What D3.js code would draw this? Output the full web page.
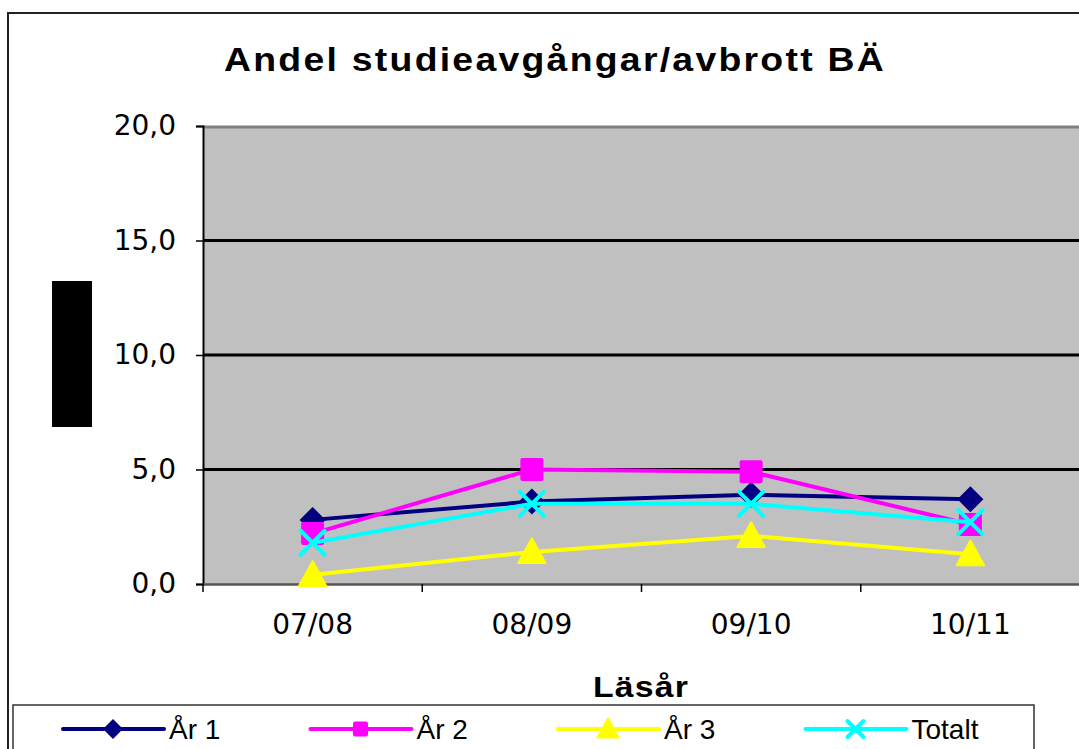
<!DOCTYPE html>
<html><head><meta charset="utf-8">
<script src="https://cdn.jsdelivr.net/npm/d3@7"></script>
<style>body{margin:0;background:#fff}svg{display:block}</style>
</head><body>
<script>
const categories = ["07/08", "08/09", "09/10", "10/11"];
const seriesNames = ["År 1", "År 2", "År 3", "Totalt"];
const ar1 = [2.8, 3.6, 3.9, 3.7];
const ar2 = [2.2, 5.0, 4.9, 2.6];
const ar3 = [0.4, 1.4, 2.1, 1.3];
const totalt = [1.8, 3.5, 3.5, 2.7];
const yTicks = [0, 5, 10, 15, 20];
const title = "Andel studieavgångar/avbrott BÄ";
const xTitle = "Läsår";

const colors = ["#000080", "#FF00FF", "#FFFF00", "#00FFFF"];
const shapes = ["diamond", "square", "triangle", "x"];
const seriesValues = [ar1, ar2, ar3, totalt];

(function () {
const W = 1079, H = 749;
const svg = d3.select("body").append("svg").attr("width", W).attr("height", H);

// outer frame
svg.append("rect").attr("x", 8).attr("y", 13).attr("width", 1100).attr("height", 800)
  .attr("fill", "#fff").attr("stroke", "#222").attr("stroke-width", 2);

const pL = 203, pR = 1080, pT = 126, pB = 584;
const x = d3.scaleBand().domain(categories).range([pL, pR]);
const y = d3.scaleLinear().domain([0, 20]).range([pB, pT]);
const cx = c => x(c) + x.bandwidth() / 2;

// plot area
svg.append("rect").attr("x", pL).attr("y", pT).attr("width", pR - pL).attr("height", pB - pT)
  .attr("fill", "#C0C0C0");
svg.append("line").attr("x1", pL).attr("x2", pR).attr("y1", pT + 1).attr("y2", pT + 1)
  .attr("stroke", "#808080").attr("stroke-width", 3);

// gridlines
svg.append("g").selectAll("line").data(yTicks.filter(t => t > 0 && t < 20)).join("line")
  .attr("x1", pL).attr("x2", pR).attr("y1", d => y(d)).attr("y2", d => y(d))
  .attr("stroke", "#000").attr("stroke-width", 3);

// y axis
const yAxis = d3.axisLeft(y).tickValues(yTicks).tickSize(7).tickPadding(20)
  .tickFormat(d => d3.format(".1f")(d).replace(".", ","));
const gy = svg.append("g").attr("transform", `translate(${pL},0)`).call(yAxis);
gy.select(".domain").attr("stroke", "#000").attr("stroke-width", 2);
gy.selectAll(".tick line").attr("stroke", "#000").attr("stroke-width", 1.5);
gy.selectAll("text").attr("font-family", "DejaVu Sans").attr("font-size", 28).attr("fill", "#000");

// x axis
const xAxis = d3.axisBottom(x).tickSize(0).tickPadding(30);
const gx = svg.append("g").attr("transform", `translate(0,${pB})`).call(xAxis);
gx.select(".domain").attr("stroke", "#555").attr("stroke-width", 2.5);
gx.selectAll("text").attr("font-family", "DejaVu Sans").attr("font-size", 28).attr("fill", "#000");
svg.append("g").selectAll("line").data(categories.concat(["end"])).join("line")
  .attr("x1", (d, i) => pL + i * x.step()).attr("x2", (d, i) => pL + i * x.step())
  .attr("y1", pB).attr("y2", pB + 8).attr("stroke", "#000").attr("stroke-width", 1.5);

// y label (rendered as a black block in the reference)
svg.append("rect").attr("x", 52).attr("y", 281).attr("width", 40).attr("height", 146).attr("fill", "#000");

// title
svg.append("text").attr("x", 224).attr("y", 71).attr("font-family", "Liberation Sans, Arial")
  .attr("font-weight", "bold").attr("font-size", 33).attr("letter-spacing", 2)
  .attr("textLength", 662).attr("lengthAdjust", "spacingAndGlyphs")
  .text(title);
svg.append("text").attr("x", 593).attr("y", 697).attr("font-family", "Liberation Sans, Arial")
  .attr("font-weight", "bold").attr("font-size", 29).attr("letter-spacing", 1)
  .attr("textLength", 96).attr("lengthAdjust", "spacingAndGlyphs")
  .text(xTitle);

function marker(g, shape, color, px, py, s) {
  if (shape === "diamond") {
    g.append("path").attr("d", `M${px},${py - s}L${px + s},${py}L${px},${py + s}L${px - s},${py}Z`).attr("fill", color);
  } else if (shape === "square") {
    g.append("rect").attr("x", px - s).attr("y", py - s).attr("width", 2 * s).attr("height", 2 * s)
      .attr("rx", 2).attr("fill", color);
  } else if (shape === "triangle") {
    g.append("path").attr("d", `M${px},${py - s * 1.05}L${px + s * 1.05},${py + s * 0.85}L${px - s * 1.05},${py + s * 0.85}Z`)
      .attr("fill", color).attr("stroke", color).attr("stroke-width", 2).attr("stroke-linejoin", "round");
  } else {
    g.append("path").attr("d", `M${px - s},${py - s}L${px + s},${py + s}M${px - s},${py + s}L${px + s},${py - s}`)
      .attr("stroke", color).attr("stroke-width", 4).attr("stroke-linecap", "round");
  }
}
const sizes = [13, 11.5, 13, 12];

const line = d3.line().x((d, i) => cx(categories[i])).y(d => y(d));
seriesValues.forEach((vals, si) => {
  const g = svg.append("g");
  g.append("path").datum(vals).attr("d", line).attr("fill", "none")
    .attr("stroke", colors[si]).attr("stroke-width", 4);
  vals.forEach((v, i) => marker(g, shapes[si], colors[si], cx(categories[i]), y(v), sizes[si]));
});

// legend
svg.append("rect").attr("x", 13).attr("y", 705).attr("width", 1021).attr("height", 60)
  .attr("fill", "#fff").attr("stroke", "#333").attr("stroke-width", 1.5);
seriesNames.forEach((name, i) => {
  const g = svg.append("g");
  const x0 = 63 + i * 247.5, yy = 729;
  g.append("line").attr("x1", x0).attr("x2", x0 + 101).attr("y1", yy).attr("y2", yy)
    .attr("stroke", colors[i]).attr("stroke-width", 4).attr("stroke-linecap", "round");
  marker(g, shapes[i], colors[i], x0 + 50, yy, [10, 7.5, 10, 8][i]);
  g.append("text").attr("x", x0 + 106).attr("y", yy + 10).attr("font-family", "Liberation Sans, Arial")
    .attr("font-size", 28).attr("fill", "#000").text(name);
});
})();
</script>
</body></html>
